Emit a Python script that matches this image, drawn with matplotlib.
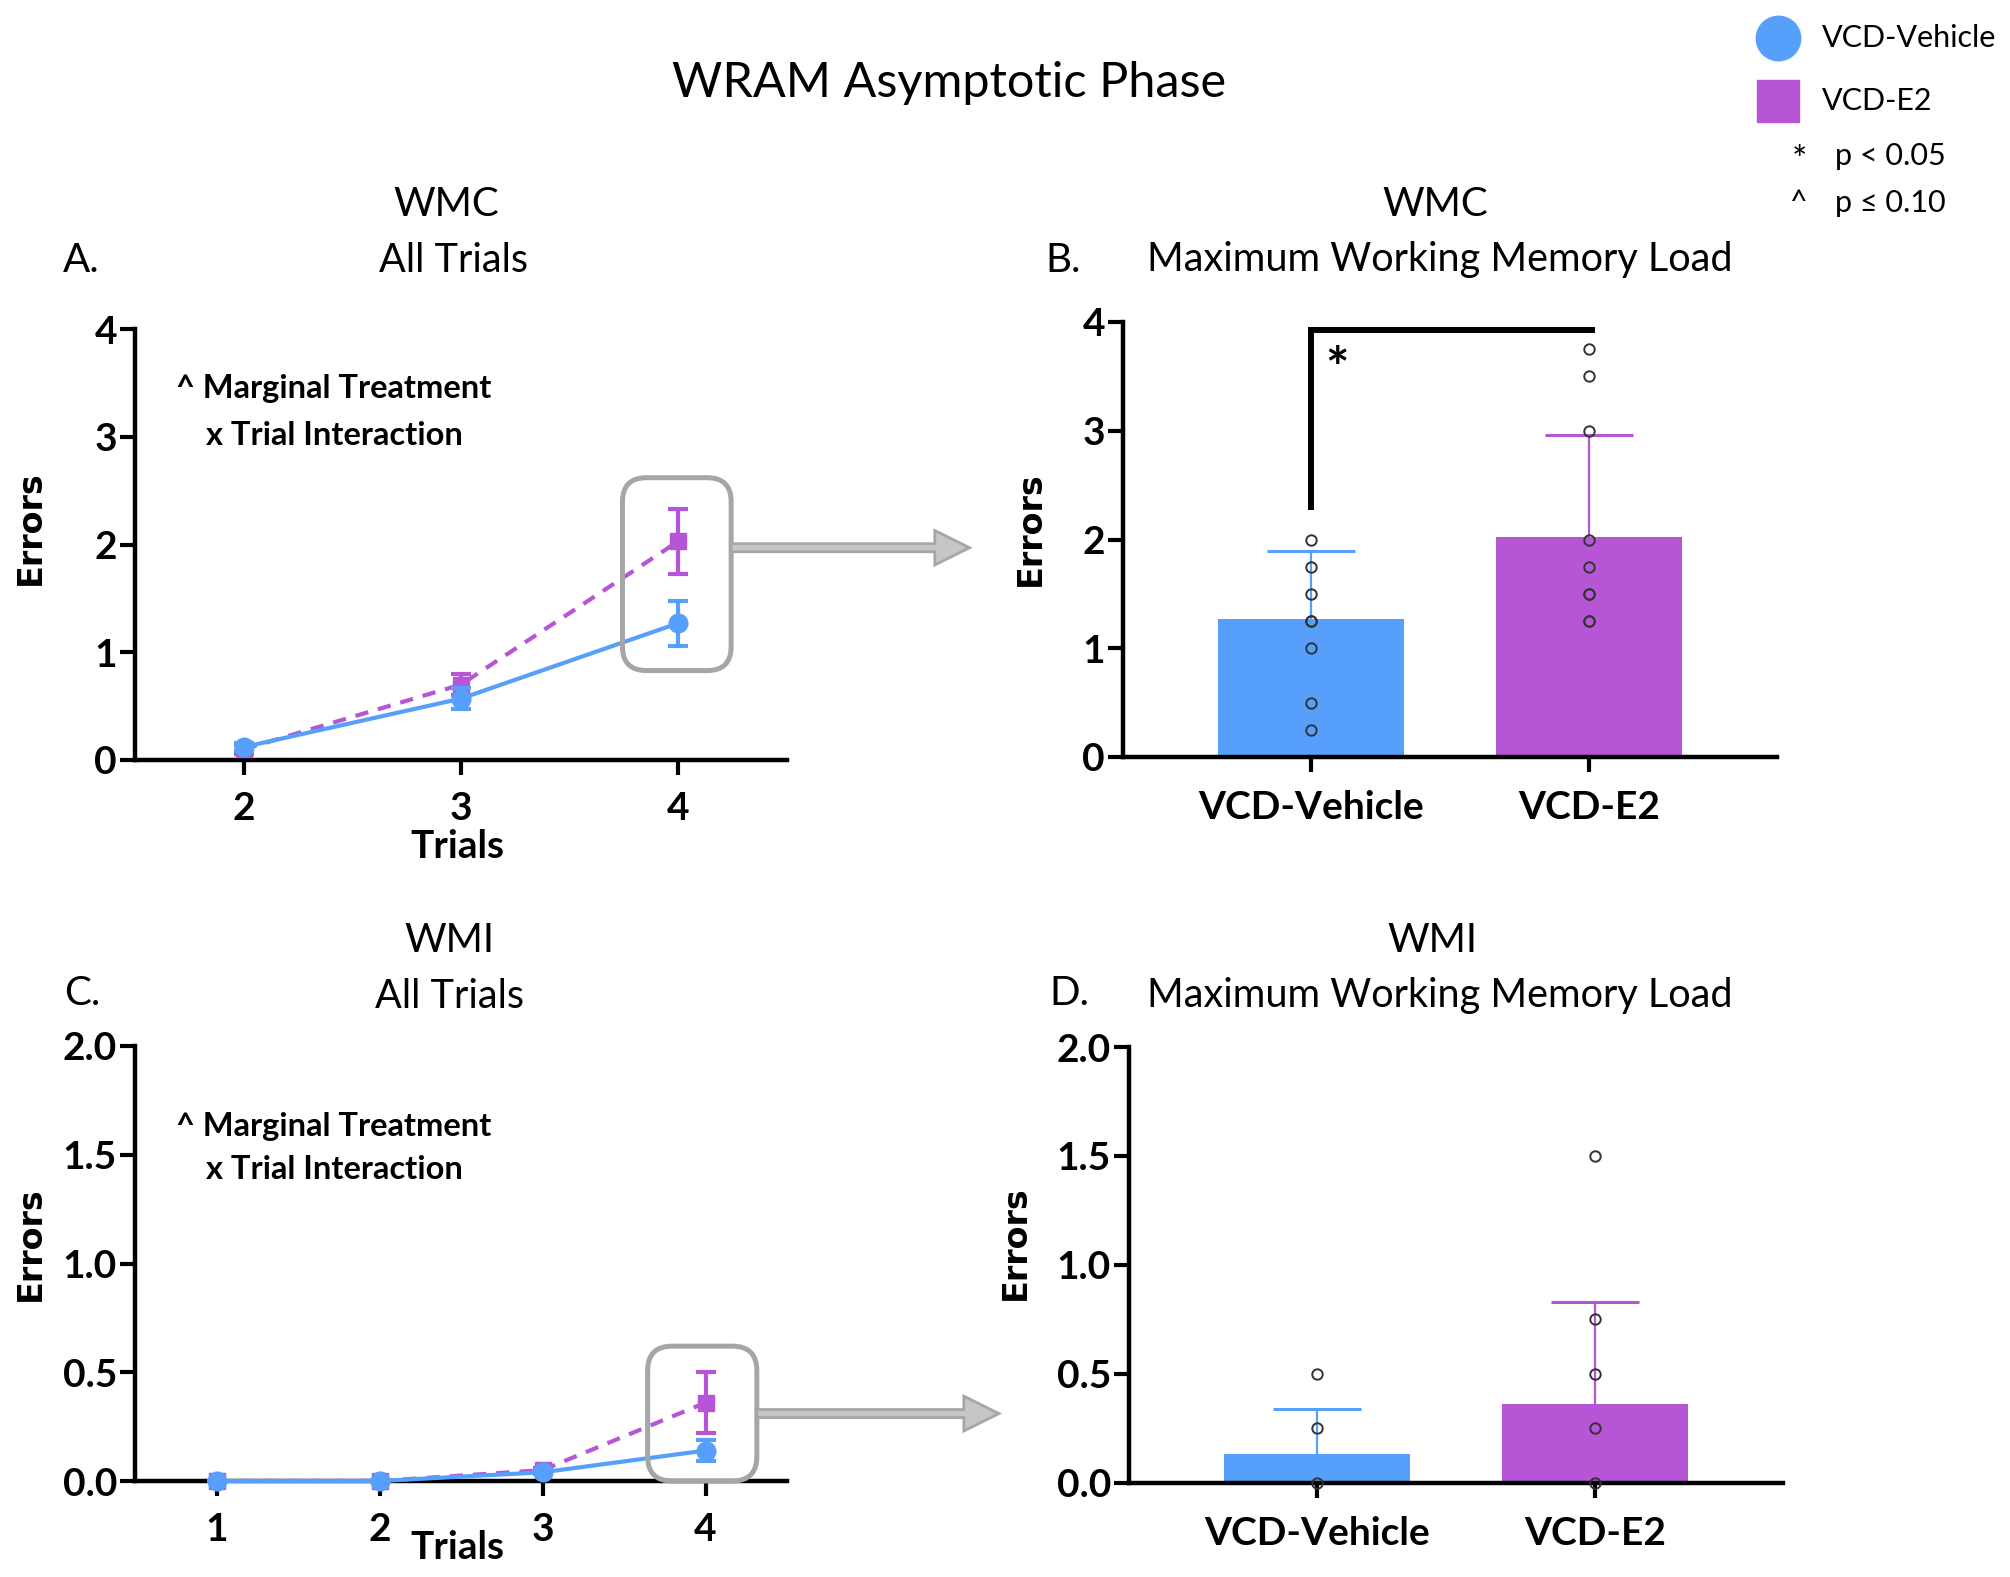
import matplotlib
matplotlib.use("Agg")
import matplotlib.pyplot as plt
from matplotlib.patches import FancyBboxPatch, FancyArrow

W, H = 2010, 1577
DPI = 100

plt.rcParams["font.family"] = ["Lato", "DejaVu Sans"]

BLUE = "#56A0FB"
PURPLE = "#B655D6"
GRAY_EDGE = "#A6A6A6"
GRAY_FILL = "#C6C6C6"

# ---- data -------------------------------------------------------------------
groups = ["VCD-Vehicle", "VCD-E2"]

wmc_trials = [2, 3, 4]
wmc_veh_mean = [0.12, 0.57, 1.27]
wmc_veh_sem = [0.04, 0.10, 0.21]
wmc_e2_mean = [0.10, 0.70, 2.03]
wmc_e2_sem = [0.04, 0.10, 0.30]

wmc_max_mean = [1.27, 2.02]
wmc_max_sd = [0.62, 0.94]
wmc_veh_pts = [2.0, 1.75, 1.5, 1.25, 1.25, 1.0, 0.5, 0.25]
wmc_e2_pts = [3.75, 3.5, 3.0, 2.0, 1.75, 1.5, 1.5, 1.25, 1.25]

wmi_trials = [1, 2, 3, 4]
wmi_veh_mean = [0.0, 0.0, 0.04, 0.14]
wmi_veh_sem = [0.0, 0.0, 0.01, 0.05]
wmi_e2_mean = [0.0, 0.0, 0.05, 0.36]
wmi_e2_sem = [0.0, 0.0, 0.01, 0.14]

wmi_max_mean = [0.13, 0.36]
wmi_max_sd = [0.21, 0.47]
wmi_veh_pts = [0.5, 0.25, 0.0]
wmi_e2_pts = [1.5, 0.75, 0.5, 0.25, 0.0]


def px(x, y):
    """pixel position (from top-left) -> figure fraction"""
    return x / W, 1 - y / H


def style(ax, pad_x):
    for s in ("top", "right"):
        ax.spines[s].set_visible(False)
    for s in ("left", "bottom"):
        ax.spines[s].set_linewidth(3.2)
    ax.tick_params(axis="both", width=3, length=11, labelsize=28)
    ax.tick_params(axis="x", pad=pad_x)
    ax.tick_params(axis="y", pad=2)
    for lbl in ax.get_xticklabels() + ax.get_yticklabels():
        lbl.set_fontweight("bold")


def errors_label(ax, x, y):
    ax.set_ylabel("Errors", family="DejaVu Sans", fontweight="bold",
                  fontsize=24, va="center")
    ax.yaxis.set_label_coords(x, y)


def line_panel(ax, trials, veh, veh_err, e2, e2_err, ymax, yticks, ylabels):
    ax.errorbar(trials, e2, yerr=e2_err, color=PURPLE, marker="s", ms=12,
                lw=3, ls=(0, (3.2, 2.4)), elinewidth=3, capsize=7, capthick=3,
                zorder=3, clip_on=False)
    ax.errorbar(trials, veh, yerr=veh_err, color=BLUE, marker="o", ms=13.5,
                lw=3, elinewidth=3, capsize=7, capthick=3, zorder=4,
                clip_on=False)
    ax.set_xlim(trials[0] - 0.5, trials[-1] + 0.5)
    ax.set_ylim(0, ymax)
    ax.set_xticks(trials)
    ax.set_yticks(yticks, ylabels)
    style(ax, pad_x=11)


def bar_panel(ax, means, sds, pts, ymax, yticks, ylabels):
    colors = [BLUE, PURPLE]
    x = list(range(len(groups)))
    ax.bar(x, means, width=0.67, color=colors, zorder=2)
    for i in x:
        eb = ax.errorbar(i, means[i], yerr=[[0], [sds[i]]], color=colors[i],
                         lw=1.6, capsize=32, capthick=2.2, zorder=3)
        eb[1][0].set_visible(False)  # upper error only
        ax.plot([i] * len(pts[i]), pts[i], ls="none", marker="o", ms=7.5,
                mfc="none", mec="#333333", mew=1.4, zorder=5, clip_on=False)
    ax.set_xlim(-0.675, 1.675)
    ax.set_ylim(0, ymax)
    ax.set_xticks(x, groups)
    ax.set_yticks(yticks, ylabels)
    style(ax, pad_x=13)


def zoom_box(ax, x0, x1, y0, y1, rounding, aspect, arrow_y, arrow_x1,
             shaft, head_w, head_l):
    box = FancyBboxPatch((x0, y0), x1 - x0, y1 - y0,
                         boxstyle=f"round,pad=0,rounding_size={rounding}",
                         mutation_aspect=aspect, fill=False, ec=GRAY_EDGE,
                         lw=3.6, clip_on=False, zorder=6)
    ax.add_patch(box)
    arr = FancyArrow(x1, arrow_y, arrow_x1 - x1, 0, width=shaft,
                     head_width=head_w, head_length=head_l,
                     length_includes_head=True, fc=GRAY_FILL, ec=GRAY_EDGE,
                     lw=2, clip_on=False, zorder=6)
    ax.add_patch(arr)


def main():
    fig = plt.figure(figsize=(W / DPI, H / DPI), dpi=DPI)

    axA = fig.add_axes([135 / W, 1 - 760 / H, 652 / W, 431 / H])
    axB = fig.add_axes([1123 / W, 1 - 757 / H, 654 / W, 435 / H])
    axC = fig.add_axes([135 / W, 1 - 1481 / H, 652 / W, 435 / H])
    axD = fig.add_axes([1129 / W, 1 - 1482.6 / H, 654 / W, 435.6 / H])

    # ---- A: WMC all trials --------------------------------------------------
    line_panel(axA, wmc_trials, wmc_veh_mean, wmc_veh_sem, wmc_e2_mean,
               wmc_e2_sem, 4, [0, 1, 2, 3, 4], ["0", "1", "2", "3", "4"])
    errors_label(axA, -0.161, 0.538)
    axA.set_xlabel("Trials", fontsize=28, fontweight="bold", va="center")
    axA.xaxis.set_label_coords(0.495, -0.2)
    axA.text(0.063, 0.863, "^ Marginal Treatment", transform=axA.transAxes,
             fontsize=23.5, fontweight="bold", va="center")
    axA.text(0.109, 0.754, "x Trial Interaction", transform=axA.transAxes,
             fontsize=23.5, fontweight="bold", va="center")
    zoom_box(axA, 3.743, 4.243, 0.83, 2.62, 0.11, 2.02, 1.97, 5.34,
             0.075, 0.32, 0.16)

    # ---- B: WMC max load ----------------------------------------------------
    bar_panel(axB, wmc_max_mean, wmc_max_sd, [wmc_veh_pts, wmc_e2_pts], 4,
              [0, 1, 2, 3, 4], ["0", "1", "2", "3", "4"])
    errors_label(axB, -0.141, 0.526)
    axB.plot([0, 0, 1.01], [2.3, 3.93, 3.93], color="black", lw=4.3,
             solid_joinstyle="miter", clip_on=False, zorder=6)
    axB.text(0.094, 3.55, "*", fontsize=40, fontweight="bold",
             ha="center", va="center")

    # ---- C: WMI all trials --------------------------------------------------
    yt = [0, 0.5, 1.0, 1.5, 2.0]
    ytl = ["0.0", "0.5", "1.0", "1.5", "2.0"]
    line_panel(axC, wmi_trials, wmi_veh_mean, wmi_veh_sem, wmi_e2_mean,
               wmi_e2_sem, 2, yt, ytl)
    errors_label(axC, -0.161, 0.545)
    axC.set_xlabel("Trials", fontsize=28, fontweight="bold", va="center")
    axC.xaxis.set_label_coords(0.495, -0.152)
    axC.text(0.063, 0.816, "^ Marginal Treatment", transform=axC.transAxes,
             fontsize=23.5, fontweight="bold", va="center")
    axC.text(0.109, 0.715, "x Trial Interaction", transform=axC.transAxes,
             fontsize=23.5, fontweight="bold", va="center")
    zoom_box(axC, 3.645, 4.315, 0.0, 0.62, 0.15, 0.75, 0.31, 5.80,
             0.037, 0.16, 0.215)

    # ---- D: WMI max load ----------------------------------------------------
    bar_panel(axD, wmi_max_mean, wmi_max_sd, [wmi_veh_pts, wmi_e2_pts], 2,
              yt, ytl)
    errors_label(axD, -0.174, 0.55)

    # ---- titles --------------------------------------------------------------
    fig.text(*px(949, 83), "WRAM Asymptotic Phase", fontsize=35,
             ha="center", va="center")
    for cx, cy, txt in [(446, 205, "WMC"), (1435, 205, "WMC"),
                        (449, 940, "WMI"), (1432, 940, "WMI")]:
        fig.text(*px(cx, cy), txt, fontsize=29, ha="center", va="center")
    for cx, cy, txt in [(453, 260, "All Trials"),
                        (1440, 260, "Maximum Working Memory Load"),
                        (449, 996, "All Trials"),
                        (1440, 996, "Maximum Working Memory Load")]:
        fig.text(*px(cx, cy), txt, fontsize=28.5, ha="center", va="center")
    for lx, ly, txt in [(63, 260, "A."), (1045, 260, "B."),
                        (64, 993, "C."), (1049, 993, "D.")]:
        fig.text(*px(lx, ly), txt, fontsize=29, ha="left", va="center")

    # ---- legend ----------------------------------------------------------------
    lay = fig.add_axes([0, 0, 1, 1], zorder=-1)
    lay.set_xlim(0, W)
    lay.set_ylim(H, 0)
    lay.axis("off")
    lay.plot(1777.5, 38, marker="o", ms=32, color=BLUE, ls="none")
    lay.plot(1778, 101, marker="s", ms=30, color=PURPLE, ls="none")
    lay.text(1822, 38, "VCD-Vehicle", fontsize=22, va="center")
    lay.text(1822, 101, "VCD-E2", fontsize=22, va="center")
    lay.text(1799, 162, "*", fontsize=26, ha="center", va="center")
    lay.text(1835, 156, "p < 0.05", fontsize=22, va="center")
    lay.text(1799, 203, "^", fontsize=22, ha="center", va="center")
    lay.text(1835, 203, "p \u2264 0.10", fontsize=22, va="center")

    fig.savefig("out.png", dpi=DPI)
    plt.close(fig)


if __name__ == "__main__":
    main()
